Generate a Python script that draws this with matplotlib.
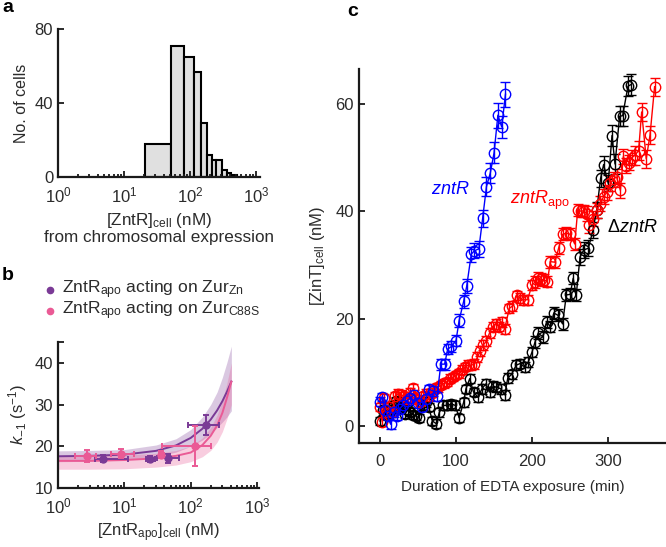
import numpy as np
import matplotlib
matplotlib.use("Agg")
import matplotlib.pyplot as plt
from matplotlib.lines import Line2D

plt.rcParams['font.family'] = ['Liberation Sans', 'DejaVu Sans']
plt.rcParams['mathtext.fontset'] = 'custom'
plt.rcParams['mathtext.rm'] = 'Liberation Sans'
plt.rcParams['mathtext.it'] = 'Liberation Sans:italic'
plt.rcParams['mathtext.bf'] = 'Liberation Sans:bold'
TXT = '#2b2b2b'

# ---------------- panel a data ----------------
hist_edges = [21, 51, 81, 115, 148, 179, 215, 252, 310, 360, 420, 520]
hist_counts = [18, 71, 65, 57, 29, 12, 9, 9, 4, 2, 1]

# ---------------- panel b data ----------------
zn_x = [4.8, 24.6, 45, 172]
zn_y = [17.0, 17.0, 17.1, 25.0]
zn_xlo = [3.6, 21, 31, 91]
zn_xhi = [11.3, 29, 66, 263]
zn_yerr = [0.8, 0.7, 1.0, 2.4]

c88_x = [2.7, 9.0, 36, 117]
c88_y = [17.6, 18.2, 18.0, 20.1]
c88_xlo = [1.8, 6.2, 33, 37]
c88_xhi = [3.7, 13.8, 40, 200]
c88_yerr = [1.4, 1.1, 0.8, 4.8]

fit_x = [1, 3, 10, 30, 60, 100, 150, 200, 250, 300, 350, 410]
zn_fit = [17.6, 17.7, 18.0, 18.9, 20.2, 22.0, 24.2, 26.4, 28.6, 30.8, 33.0, 35.5]
zn_up = [18.9, 19.0, 19.2, 20.3, 21.8, 24.0, 27.0, 30.0, 33.0, 36.5, 40.0, 44.0]
zn_lo = [16.3, 16.4, 16.7, 17.5, 18.6, 20.0, 21.5, 23.0, 24.5, 25.8, 27.0, 28.5]
c88_fit = [16.5, 16.5, 16.7, 17.1, 17.7, 18.5, 20.3, 22.5, 25.0, 28.0, 31.5, 35.5]
c88_up = [17.8, 17.8, 17.9, 18.3, 19.0, 20.0, 22.0, 24.5, 27.5, 31.0, 35.0, 40.0]
c88_lo = [14.5, 14.5, 14.6, 15.0, 15.5, 16.3, 17.5, 19.0, 21.0, 23.5, 26.5, 30.0]

# ---------------- panel c data ----------------
blue_t = [0, 3, 7, 10, 14, 18, 22, 26, 30, 35, 40, 45, 50, 55, 60, 65, 70, 75,
          80, 85, 89, 94, 100, 104, 110, 114, 120, 124, 130, 135, 140, 145, 150,
          155, 160, 165]
blue_y = [4.5, 5.4, 3.0, 1.8, 0.3, 2.5, 1.8, 3.2, 3.8, 4.6, 5.2, 5.8, 4.2, 3.6,
          5.0, 6.8, 6.5, 5.5, 11.5, 11.5, 14.3, 14.8, 15.9, 19.6, 23.2, 26.0,
          32.0, 32.6, 33.0, 38.7, 44.6, 47.1, 50.9, 57.9, 55.7, 61.8]
blue_e = [0.8, 0.8, 0.8, 0.8, 0.8, 0.8, 0.8, 0.8, 0.8, 0.8, 0.8, 0.8, 0.8, 0.8,
          0.8, 0.9, 0.9, 0.9, 1.0, 1.0, 1.0, 1.0, 1.1, 1.2, 1.2, 1.3, 1.4, 1.4,
          1.5, 1.6, 1.7, 1.8, 2.0, 2.3, 2.0, 2.3]

red_t = [0, 3, 5, 8, 12, 16, 20, 24, 28, 32, 36, 40, 44, 48, 52, 56, 60, 64, 68,
         72, 76, 80, 84, 88, 92, 96, 100, 104, 108, 112, 116, 120, 124, 128, 132,
         136, 140, 144, 148, 152, 156, 160, 164, 170, 174, 180, 184, 188, 194,
         200, 204, 208, 212, 216, 220, 224, 230, 235, 240, 245, 250, 256, 260,
         264, 268, 272, 275, 280, 285, 289, 294, 298, 303, 307, 311, 316, 320,
         324, 328, 331, 335, 340, 344, 350, 355, 361]
red_y = [3.5, 0.8, 5.2, 3.0, 3.5, 2.5, 5.5, 6.0, 5.8, 5.5, 5.0, 6.2, 7.0, 5.0,
         4.5, 5.5, 6.0, 5.5, 6.2, 7.0, 7.2, 7.6, 7.9, 8.2, 8.8, 9.1, 9.5, 9.8,
         10.5, 11.0, 11.3, 11.3, 11.5, 12.8, 14.0, 15.1, 15.8, 17.3, 18.5, 19.0,
         18.5, 19.3, 18.1, 21.9, 22.3, 24.3, 23.8, 23.5, 23.5, 26.3, 26.8, 27.5,
         27.3, 27.2, 26.9, 30.6, 30.5, 33.2, 35.7, 35.9, 35.7, 33.9, 40.3, 40.0,
         40.1, 39.5, 37.4, 38.6, 40.2, 41.4, 42.7, 43.5, 45.2, 46.0, 46.4, 43.9,
         50.2, 48.5, 49.0, 50.0, 50.4, 51.3, 58.5, 49.8, 54.2, 63.2]
red_e = [0.8] * 30 + [0.9] * 20 + [1.1] * 15 + [1.4] * 15 + [1.7] * 6

black_t = [0, 4, 8, 11, 15, 18, 21, 25, 28, 33, 37, 40, 44, 47, 51, 57, 60, 64,
           69, 74, 78, 83, 88, 94, 99, 104, 110, 113, 118, 123, 129, 134, 139,
           144, 149, 153, 159, 164, 168, 173, 179, 184, 190, 195, 200, 204, 208,
           214, 219, 224, 229, 234, 240, 245, 250, 254, 258, 263, 268, 274, 280,
           285, 290, 294, 300, 305, 309, 315, 319, 326, 330]
black_y = [0.9, 2.9, 2.0, 2.3, 3.0, 3.8, 4.6, 4.4, 3.5, 2.3, 3.0, 2.6, 2.0, 1.9,
           1.5, 3.8, 4.4, 3.5, 0.9, 0.4, 2.5, 3.8, 3.8, 4.1, 3.8, 1.5, 4.4, 6.9,
           8.8, 6.3, 5.3, 6.9, 7.8, 6.3, 7.4, 7.2, 6.9, 5.8, 8.9, 9.6, 11.3, 11.6,
           11.0, 11.9, 13.8, 15.7, 17.3, 16.6, 19.4, 18.5, 21.0, 20.6, 19.0, 24.4,
           24.5, 27.5, 24.4, 31.5, 32.8, 33.1, 36.5, 40.3, 46.1, 48.7, 45.2, 54.1,
           48.8, 57.7, 57.8, 63.3, 63.6]
black_e = [0.8] * 30 + [0.9] * 15 + [1.1] * 12 + [1.5] * 8 + [1.9] * 6

PURPLE = '#7a3a96'
PINK = '#ea5a95'

fig = plt.figure(figsize=(6.66, 5.47), dpi=100)

def style(ax, fs):
    for s in ['top', 'right']:
        ax.spines[s].set_visible(False)
    for s in ['left', 'bottom']:
        ax.spines[s].set_linewidth(1.6)
        ax.spines[s].set_color('#1a1a1a')
    ax.tick_params(which='both', direction='in', colors='#1a1a1a',
                   labelcolor=TXT, labelsize=fs, width=1.3)
    ax.tick_params(which='major', length=4)
    ax.tick_params(which='minor', length=2.5)

# ---------------- panel a ----------------
axa = fig.add_axes([0.0871, 0.6764, 0.3033, 0.2706])
widths = np.diff(hist_edges)
axa.bar(hist_edges[:-1], hist_counts, width=widths, align='edge',
        color='#e0e0e0', edgecolor='black', linewidth=1.5)
axa.set_xscale('log')
axa.set_xlim(1, 1150)
axa.set_ylim(0, 80)
axa.set_yticks([0, 40, 80])
axa.set_xticks([1, 10, 100, 1000])
style(axa, 12)
axa.tick_params(axis='x', pad=6)
axa.set_ylabel('No. of cells', fontsize=11.5, color=TXT, labelpad=4)
axa.set_xlabel('[ZntR]$_{\\mathrm{cell}}$ (nM)\nfrom chromosomal expression',
               fontsize=12.3, color=TXT, labelpad=4, linespacing=1.05)

# ---------------- panel b ----------------
axb = fig.add_axes([0.0871, 0.1079, 0.3018, 0.2669])
axb.fill_between(fit_x, zn_lo, zn_up, color=PURPLE, alpha=0.28, lw=0)
axb.fill_between(fit_x, c88_lo, c88_up, color=PINK, alpha=0.30, lw=0)
axb.plot(fit_x, zn_fit, color=PURPLE, lw=1.4)
axb.plot(fit_x, c88_fit, color=PINK, lw=1.4)
zx = np.array(zn_x); cx = np.array(c88_x)
axb.errorbar(zn_x, zn_y, yerr=zn_yerr,
             xerr=[zx - np.array(zn_xlo), np.array(zn_xhi) - zx],
             fmt='o', color=PURPLE, ms=5, capsize=2.5, elinewidth=1.4,
             capthick=1.4)
axb.errorbar(c88_x, c88_y, yerr=c88_yerr,
             xerr=[cx - np.array(c88_xlo), np.array(c88_xhi) - cx],
             fmt='o', color=PINK, ms=5, capsize=2.5, elinewidth=1.4,
             capthick=1.4)
axb.set_xscale('log')
axb.set_xlim(1, 1070)
axb.set_ylim(10, 45)
axb.set_yticks([10, 20, 30, 40, 45])
axb.set_yticklabels(['10', '20', '30', '40', ''])
axb.set_xticks([1, 10, 100, 1000])
style(axb, 12)
axb.tick_params(axis='x', pad=6)
axb.set_ylabel('$k_{-1}$ (s$^{-1}$)', fontsize=12, color=TXT, labelpad=4)
axb.set_xlabel('[ZntR$_{\\mathrm{apo}}$]$_{\\mathrm{cell}}$ (nM)',
               fontsize=12, color=TXT, labelpad=4)

# legend for b
for yy, col, lab in [(290, PURPLE, 'ZntR$_{\\mathrm{apo}}$ acting on Zur$_{\\mathrm{Zn}}$'),
                     (311, PINK, 'ZntR$_{\\mathrm{apo}}$ acting on Zur$_{\\mathrm{C88S}}$')]:
    fig.add_artist(Line2D([50 / 666], [1 - yy / 547], marker='o', ms=4.5,
                          color=col, transform=fig.transFigure))
    fig.text(62 / 666, 1 - yy / 547, lab, fontsize=12.6, color=TXT,
             va='center', ha='left')

# ---------------- panel c ----------------
axc = fig.add_axes([0.539, 0.1901, 0.461, 0.6837])
for t, y, e, col in [(black_t, black_y, black_e, 'black'),
                     (red_t, red_y, red_e, '#ff0000'),
                     (blue_t, blue_y, blue_e, '#0000ff')]:
    axc.errorbar(t, y, yerr=e, fmt='o-', color=col, mfc='none', ms=7.5,
                 mew=1.0, lw=1.0, elinewidth=1.0, capsize=3.5, capthick=1.0)
axc.set_xlim(-27.6, 376)
axc.set_ylim(-3.2, 66.5)
axc.set_xticks([0, 100, 200, 300])
axc.set_yticks([0, 20, 40, 60])
style(axc, 12)
axc.tick_params(axis='x', pad=8)
axc.set_xlabel('Duration of EDTA exposure (min)', fontsize=11, color=TXT,
               labelpad=8)
axc.set_ylabel('[ZinT]$_{\\mathrm{cell}}$ (nM)', fontsize=12, color=TXT,
               labelpad=6)
axc.text(93, 44, '$\\mathit{zntR}$', color='#0000ff', fontsize=13,
         ha='center', va='center')
axc.text(210, 42, '$\\mathit{zntR}_{\\mathrm{apo}}$', color='#ff0000',
         fontsize=13, ha='center', va='center')
axc.text(332, 37, '$\\Delta\\mathit{zntR}$', color='black', fontsize=13,
         ha='center', va='center')

# panel letters
fig.text(2 / 666, 1 - 8 / 547, 'a', fontsize=14, fontweight='bold', va='center')
fig.text(2 / 666, 1 - 276 / 547, 'b', fontsize=14, fontweight='bold', va='center')
fig.text(347 / 666, 1 - 12 / 547, 'c', fontsize=14, fontweight='bold', va='center')

fig.savefig('out.png', dpi=100)
